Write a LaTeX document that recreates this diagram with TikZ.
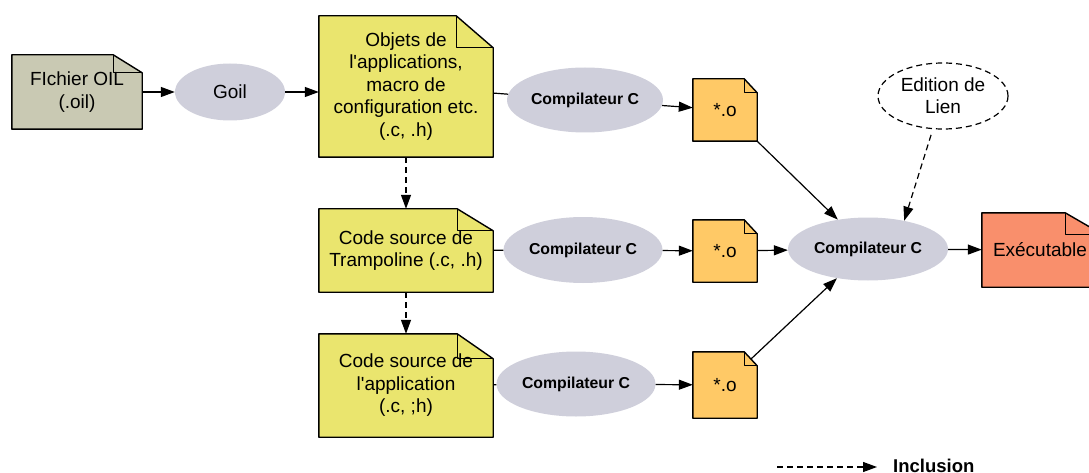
\documentclass[tikz,border=0pt]{standalone}
\usepackage{fontspec}
\setmainfont{Liberation Sans}[Ligatures=TeXOff]
\usetikzlibrary{arrows.meta,shapes.geometric,backgrounds}
\definecolor{oilc}{HTML}{C9C9B3}
\definecolor{srcc}{HTML}{EAE56E}
\definecolor{objc}{HTML}{FFC966}
\definecolor{exec}{HTML}{F98F6C}
\definecolor{procc}{HTML}{CFCFDB}
\newcommand\dogear[4]{%
  \filldraw[fill=#4, draw=black, line width=1.4pt, line join=round]
    (#1.north west) -- ([xshift=-#2]#1.north east) -- ([yshift=-#3]#1.north east)
    -- (#1.south east) -- (#1.south west) -- cycle;
  \draw[line width=1.2pt, line join=round]
    ([xshift=-#2]#1.north east) -- ([xshift=-#2,yshift=-#3]#1.north east)
    -- ([yshift=-#3]#1.north east);
}
\begin{document}
\begin{tikzpicture}[x=1pt,y=-1pt,
  txt/.style={font=\fontsize{19}{22.5}\selectfont, align=center, inner sep=0pt},
  docbox/.style={txt, rectangle, draw=none},
  proc/.style={ellipse, fill=procc, inner sep=0pt, align=center,
               font=\fontsize{15.8}{18}\selectfont\bfseries},
  arr/.style={-{Triangle[length=14pt,width=10pt]}, line width=1.2pt},
  dasharr/.style={arr, dash pattern=on 6pt off 4pt},
  link/.style={line width=1.2pt}]
\useasboundingbox (0,0) rectangle (1089,473);

% documents
\node[docbox, minimum width=130pt, minimum height=74pt] (oil) at (77,92) {FIchier OIL\\(.oil)};
\node[docbox, minimum width=174pt, minimum height=141pt] (objets) at (406,86.5)
  {Objets de\\l'applications,\\macro de\\configuration etc.\\(.c, .h)};
\node[docbox, minimum width=174pt, minimum height=83pt] (tramp) at (406,250.5)
  {Code source de\\Trampoline (.c, .h)};
\node[docbox, minimum width=174pt, minimum height=103pt] (app) at (406,385.5)
  {Code source de\\l'application\\(.c, ;h)};
\node[docbox, minimum width=64pt, minimum height=62pt] (o1) at (725,110) {*.o};
\node[docbox, minimum width=64pt, minimum height=62pt] (o2) at (725,251) {*.o};
\node[docbox, minimum width=64pt, minimum height=66pt] (o3) at (725,385) {*.o};
\node[docbox, minimum width=121pt, minimum height=74pt, text width=121pt] (exe) at (1042.5,250)
  {\hspace*{-5pt}Exécutable};

% processes
\node[proc, txt, font=\fontsize{19}{22}\selectfont, minimum width=110pt, minimum height=57pt, fill=procc, ellipse] (goil) at (230,92) {Goil};
\node[proc, minimum width=156pt, minimum height=65pt] (comp1) at (585,100) {Compilateur C};
\node[proc, minimum width=159pt, minimum height=66pt] (comp2) at (583,250) {Compilateur C};
\node[proc, minimum width=159pt, minimum height=65pt] (comp3) at (576,384) {Compilateur C};
\node[proc, minimum width=160pt, minimum height=63pt] (compbig) at (868,249) {Compilateur C};
\node[ellipse, fill=white, draw=black, line width=1.2pt, dash pattern=on 6pt off 4pt,
      minimum width=130pt, minimum height=66pt, inner sep=0pt, align=center,
      font=\fontsize{19}{22}\selectfont] (edition) at (943,96) {Edition de\\Lien};

\begin{scope}[on background layer]
  \dogear{oil}{29pt}{18pt}{oilc}
  \dogear{objets}{37pt}{32pt}{srcc}
  \dogear{tramp}{36pt}{22pt}{srcc}
  \dogear{app}{36pt}{25pt}{srcc}
  \dogear{o1}{13pt}{14pt}{objc}
  \dogear{o2}{13pt}{14pt}{objc}
  \dogear{o3}{13pt}{14pt}{objc}
  \dogear{exe}{38pt}{22pt}{exec}
\end{scope}

% connectors
\draw[arr] (oil) -- (goil);
\draw[arr] (goil) -- (goil -| objets.west);
\draw[link] (objets) -- (comp1);
\draw[arr] (comp1) -- (o1);
\draw[link] (tramp) -- (comp2);
\draw[arr] (comp2) -- (o2);
\draw[link] (app) -- (comp3);
\draw[arr] (comp3) -- (o3);
\draw[dasharr] (objets) -- (tramp);
\draw[dasharr] (tramp) -- (app);
\draw[arr] (o1.south east) -- (compbig);
\draw[arr] (o2) -- (compbig);
\draw[arr] ([xshift=-6pt,yshift=-7pt]o3.north east) -- (compbig);
\draw[dasharr, shorten <=6pt] (edition.253) -- (compbig.38);
\draw[arr] (compbig) -- (exe);

% legend
\coordinate (legs) at (777,467);
\node[anchor=west, inner sep=0pt, font=\fontsize{18.5}{20}\selectfont\bfseries] (incl) at (893,466) {Inclusion};
\draw[dasharr, shorten >=16pt] (legs) -- (incl.west |- legs);
\end{tikzpicture}
\end{document}
